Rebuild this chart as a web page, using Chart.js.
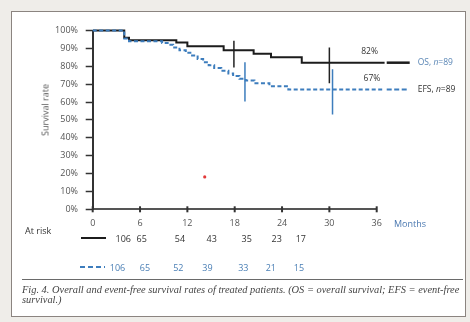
<!DOCTYPE html>
<html>
<head>
<meta charset="utf-8">
<script src="https://cdn.jsdelivr.net/npm/chart.js@4.4.1/dist/chart.umd.min.js"></script>
<style>
  html, body { margin: 0; padding: 0; width: 470px; height: 322px; overflow: hidden; background: #efede9; }
  #frame { position: absolute; left: 11px; top: 11px; width: 453px; height: 304px; border: 1.5px solid #8b8480; background: #fff; }
  #c { position: absolute; left: 0; top: 0; }
  .t { position: absolute; font-family: "Open Sans", sans-serif; font-size: 9px; color: #444; white-space: nowrap; line-height: 1; }
  .num { transform: translate(-50%, -50%); }
  #ytitle { left: 45px; top: 110px; transform: translate(-50%, -50%) rotate(-90deg); color: #555; }
  #months { left: 394px; top: 223px; transform: translateY(-50%); color: #4a78b0; }
  #atrisk { left: 25px; top: 230px; transform: translateY(-50%); color: #333; }
  .seg { position: absolute; height: 2px; }
  #segOS { left: 81px; top: 237px; width: 25px; background: #1c1c1c; }
  #segEFS { left: 80px; top: 266px; width: 25px; background: repeating-linear-gradient(90deg, #3d7dbd 0 5px, transparent 5px 8px); }
  #rule { position: absolute; left: 22px; top: 278.5px; width: 441px; height: 1.5px; background: #6a6a6a; }
  #capbox { position: absolute; left: 22px; top: 285px; width: 442px; height: 26px; overflow: hidden; }
  #caption { font-family: "Liberation Serif", serif; font-style: italic; font-size: 10.4px; line-height: 9.5px; color: #444; white-space: nowrap; }
</style>
</head>
<body>
<div id="frame"></div>
<canvas id="c" width="470" height="322"></canvas>
<div id="overlay"></div>
<script>
// Kaplan-Meier estimates (months, survival %)
const osMonths  = [0, 4.0, 4.6, 10.6, 12.0, 16.6, 20.4, 22.6, 26.5, 37];
const osSurv    = [100, 96, 94.5, 93.3, 91.2, 89, 87, 85, 82, 82];
const efsMonths = [0, 4.0, 4.6, 8.8, 9.5, 10.2, 11.0, 11.8, 12.6, 13.3, 14.0, 14.7, 15.4, 16.3, 17.2, 17.8, 18.6, 19.4, 20.5, 22.4, 24.8, 37];
const efsSurv   = [100, 95.5, 94, 93, 92, 90.5, 89, 87.5, 86, 84, 82.2, 80.5, 79, 77.5, 76, 74.5, 73, 72, 70.5, 68.8, 67, 67];

// Confidence bars at selected time points
const osBarMonths  = [17.9, 30.0];
const osBarHigh    = [94.3, 90.5];
const osBarLow     = [79.3, 70.5];
const efsBarMonths = [19.3, 30.4];
const efsBarHigh   = [82.3, 78.3];
const efsBarLow    = [60.3, 53.0];

// Stray mark inside the plot
const markMonth = [14.2];
const markValue = [18.1];

// Axis ticks
const monthTicks = [0, 6, 12, 18, 24, 30, 36];
const rateTicks  = [0, 10, 20, 30, 40, 50, 60, 70, 80, 90, 100];

// Numbers at risk
const atRiskOS  = [106, 65, 54, 43, 35, 23, 17];
const atRiskEFS = [106, 65, 52, 39, 33, 21, 15];

const seriesNames = ['OS', 'EFS'];
const seriesN = [89, 89];

const OS_COLOR = '#1c1c1c';
const EFS_COLOR = '#3d7dbd';

function pts(xs, ys) { return xs.map((x, i) => ({ x: x, y: ys[i] })); }

const barSets = [];
osBarMonths.forEach((m, i) => barSets.push({
  data: [{ x: m, y: osBarHigh[i] }, { x: m, y: osBarLow[i] }],
  borderColor: '#222', borderWidth: 1.5, pointRadius: 0, clip: false, order: 3
}));
efsBarMonths.forEach((m, i) => barSets.push({
  data: [{ x: m, y: efsBarHigh[i] }, { x: m, y: efsBarLow[i] }],
  borderColor: EFS_COLOR, borderWidth: 1.5, pointRadius: 0, clip: false, order: 0
}));

// Crossing tick marks on the month axis, end labels and series legend
const decor = {
  id: 'decor',
  afterDatasetsDraw(chart) {
    const { ctx, chartArea, scales: { x, y } } = chart;
    ctx.save();
    ctx.strokeStyle = '#333';
    ctx.lineWidth = 2;
    monthTicks.forEach(m => {
      const px = x.getPixelForValue(m);
      ctx.beginPath();
      ctx.moveTo(px, chartArea.bottom - 3);
      ctx.lineTo(px, chartArea.bottom + 3);
      ctx.stroke();
    });

    const osEnd = osSurv[osSurv.length - 1];
    const efsEnd = efsSurv[efsSurv.length - 1];
    ctx.font = '8.5px "Open Sans", sans-serif';
    ctx.textAlign = 'center';
    ctx.textBaseline = 'middle';
    ctx.fillStyle = '#333';
    ctx.fillText(Math.round(osEnd) + '%', x.getPixelForValue(35.1), y.getPixelForValue(osEnd) - 11);
    ctx.fillText(Math.round(efsEnd) + '%', x.getPixelForValue(35.4), y.getPixelForValue(efsEnd) - 11);

    // legend strokes after the curve ends
    const r = chartArea.right;
    ctx.lineWidth = 2.5;
    ctx.strokeStyle = OS_COLOR;
    ctx.beginPath();
    ctx.moveTo(r + 10, y.getPixelForValue(osEnd));
    ctx.lineTo(r + 33, y.getPixelForValue(osEnd));
    ctx.stroke();
    ctx.lineWidth = 2;
    ctx.strokeStyle = EFS_COLOR;
    ctx.setLineDash([5, 2.5]);
    ctx.beginPath();
    ctx.moveTo(r + 10, y.getPixelForValue(efsEnd));
    ctx.lineTo(r + 32, y.getPixelForValue(efsEnd));
    ctx.stroke();
    ctx.setLineDash([]);

    const legendText = (name, n, py, color) => {
      let px = r + 41;
      ctx.textAlign = 'left';
      ctx.fillStyle = color;
      ctx.font = '8.5px "Open Sans", sans-serif';
      const a = name + ', ';
      ctx.fillText(a, px, py); px += ctx.measureText(a).width;
      ctx.font = 'italic 8.5px "Open Sans", sans-serif';
      ctx.fillText('n', px, py); px += ctx.measureText('n').width;
      ctx.font = '8.5px "Open Sans", sans-serif';
      ctx.fillText('=' + n, px, py);
    };
    legendText(seriesNames[0], seriesN[0], y.getPixelForValue(osEnd), '#5a86b5');
    legendText(seriesNames[1], seriesN[1], y.getPixelForValue(efsEnd), '#333');
    ctx.restore();
  }
};

new Chart(document.getElementById('c'), {
  type: 'line',
  data: {
    datasets: [
      { label: 'OS', data: pts(osMonths, osSurv), borderColor: OS_COLOR, borderWidth: 2, stepped: true, pointRadius: 0, clip: false, order: 2 },
      { label: 'EFS', data: pts(efsMonths, efsSurv), borderColor: EFS_COLOR, borderWidth: 2, borderDash: [4, 2.5], stepped: true, pointRadius: 0, clip: false, order: 1 },
      ...barSets,
      { data: pts(markMonth, markValue), showLine: false, pointRadius: 1.6, pointBackgroundColor: '#e23a3a', pointBorderWidth: 0, order: 0 }
    ]
  },
  options: {
    responsive: false,
    animation: false,
    devicePixelRatio: 1,
    layout: { padding: { left: 0, right: 93.3, top: 30.5, bottom: 88.7 } },
    plugins: { legend: { display: false }, tooltip: { enabled: false } },
    scales: {
      x: {
        type: 'linear', min: 0, max: 36,
        afterBuildTicks(s) { s.ticks = monthTicks.map(v => ({ value: v })); },
        afterFit(s) { s.height = 24; },
        grid: { display: false, drawTicks: false },
        border: { display: true, color: '#555', width: 2 },
        ticks: { padding: 9, color: '#555', font: { family: '"Open Sans", sans-serif', size: 9 }, maxRotation: 0 }
      },
      y: {
        min: 0, max: 100,
        afterBuildTicks(s) { s.ticks = rateTicks.map(v => ({ value: v })); },
        afterFit(s) { s.width = 92.7; },
        grid: { display: true, drawOnChartArea: false, drawTicks: true, tickLength: 7, tickWidth: 1.5, tickColor: '#333' },
        border: { display: true, color: '#333', width: 2 },
        ticks: { padding: 7.7, color: '#555', font: { family: '"Open Sans", sans-serif', size: 9 }, callback: v => v + '%' }
      }
    }
  },
  plugins: [decor]
});

// Text around the plot: axis title, unit, numbers at risk and caption
const ov = document.getElementById('overlay');
function add(html, cls, id, style) {
  const d = document.createElement('div');
  d.className = cls;
  if (id) d.id = id;
  if (style) d.setAttribute('style', style);
  d.innerHTML = html;
  ov.appendChild(d);
  return d;
}
add('Survival rate', 't', 'ytitle');
add('Months', 't', 'months');
add('At risk', 't', 'atrisk');
add('', 'seg', 'segOS');
add('', 'seg', 'segEFS');
const colsOS  = [123.3, 141.7, 180, 211.7, 246.7, 276.7, 300.8];
const colsEFS = [117.5, 145, 178.3, 207.5, 243.3, 270.8, 299];
atRiskOS.forEach((v, i) => add(String(v), 't num', null, `left:${colsOS[i]}px;top:238px;color:#333`));
atRiskEFS.forEach((v, i) => add(String(v), 't num', null, `left:${colsEFS[i]}px;top:267px;color:#4a7fb5`));
add('', '', 'rule');
const cap = add('', '', 'capbox');
cap.innerHTML = '<div id="caption">Fig. 4. Overall and event-free survival rates of treated patients. (OS = overall survival; EFS = event-free<br>survival.)</div>';
</script>
</body>
</html>
